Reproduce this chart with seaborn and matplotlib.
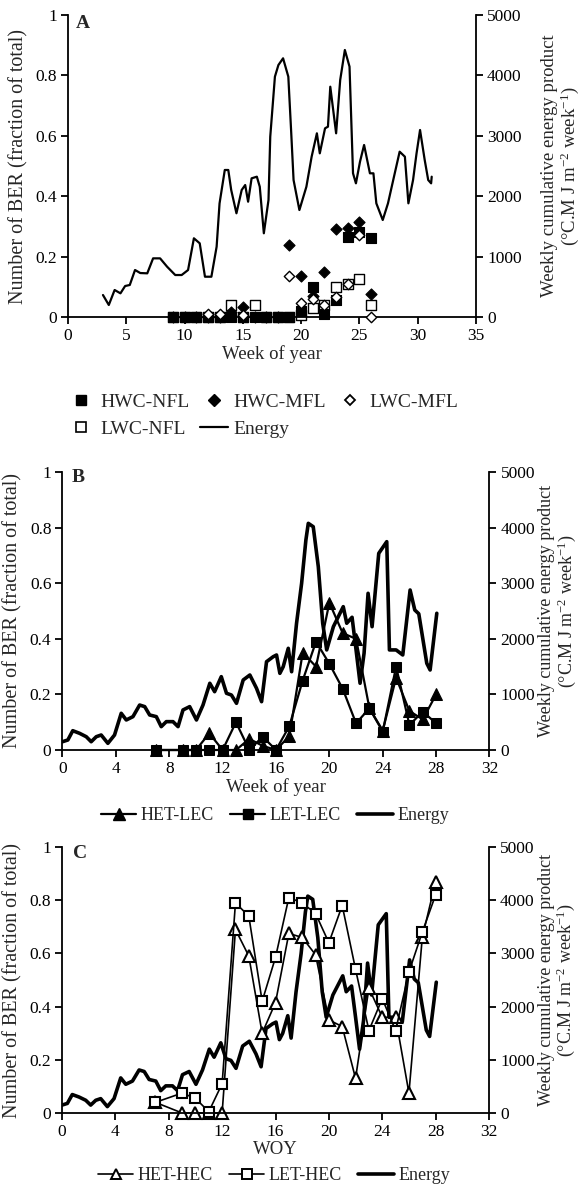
import numpy as np
import pandas as pd
import matplotlib
matplotlib.use("Agg")
import matplotlib.pyplot as plt
import seaborn as sns
from matplotlib.lines import Line2D
from matplotlib.ticker import FuncFormatter, MultipleLocator

nan = float("nan")

# ---------------- data ----------------
# Panel A: weekly BER fractions
weeks_A = [9, 10, 11, 12, 13, 14, 15, 16, 17, 18, 19, 20, 21, 22, 23, 24, 25, 26]
hwc_nfl = [0, 0, 0, 0, 0, 0, 0, 0, 0, 0, 0, 0.02, 0.10, 0.01, 0.055, 0.265, 0.28, 0.26]
hwc_mfl = [0, 0, 0, 0, 0, 0.018, 0.032, 0, 0, 0, 0.24, 0.135, 0.07, 0.15, 0.29, 0.295, 0.315, 0.075]
lwc_mfl = [nan, nan, nan, 0.01, 0.01, nan, 0.005, nan, nan, nan, 0.135, 0.045, 0.06, 0.04, 0.065, 0.11, 0.27, 0]
lwc_nfl = [0, 0, 0, 0, 0, 0.04, 0, 0.04, 0, 0, 0, 0.005, 0.03, 0.04, 0.10, 0.11, 0.125, 0.04]

# Panel A: energy
energy_A_week = [3.0, 3.5, 4.0, 4.5, 4.9, 5.3, 5.75, 6.2, 6.8, 7.3, 7.9, 8.5, 9.2, 9.75, 10.3,
                 10.8, 11.3, 11.75, 12.3, 12.75, 13.0, 13.45, 13.75, 14.0, 14.45, 14.9, 15.2,
                 15.45, 15.75, 16.2, 16.45, 16.8, 17.2, 17.35, 17.75, 18.05, 18.45, 18.9, 19.15,
                 19.35, 19.85, 20.45, 20.9, 21.35, 21.6, 22.05, 22.3, 22.5, 23.0, 23.35, 23.75,
                 24.15, 24.45, 24.7, 25.05, 25.4, 25.9, 26.2, 26.45, 27.0, 27.45, 27.9, 28.45,
                 28.9, 29.2, 29.6, 29.9, 30.2, 30.6, 30.9, 31.15, 31.2]
energy_A = [364, 199, 447, 392, 513, 530, 778, 728, 723, 971, 971, 833, 695, 695, 778,
            1303, 1220, 667, 667, 1164, 1880, 2434, 2434, 2103, 1717, 2103, 2185,
            1909, 2296, 2323, 2157, 1386, 1937, 2985, 3979, 4172, 4283, 3979, 3046,
            2268, 1771, 2157, 2654, 3041, 2710, 3124, 3151, 3813, 3041, 3924, 4421,
            4145, 2379, 2213, 2572, 2848, 2379, 2379, 1882, 1606, 1882, 2268, 2737,
            2654, 1882, 2268, 2710, 3096, 2599, 2268, 2213, 2323]

# Panels B and C: energy
energy_week = [0.0, 0.4, 0.77, 1.28, 1.78, 2.15, 2.53, 2.9, 3.4, 3.9, 4.4, 4.78, 5.28, 5.78,
               6.16, 6.53, 7.03, 7.4, 7.78, 8.28, 8.66, 9.03, 9.53, 10.04, 10.53, 11.04, 11.4,
               11.9, 12.29, 12.66, 13.04, 13.54, 14.04, 14.54, 14.92, 15.29, 15.79, 16.04,
               16.29, 16.54, 16.92, 17.17, 17.54, 17.92, 18.24, 18.42, 18.79, 19.17, 19.5,
               19.8, 20.3, 21.04, 21.3, 21.7, 22.0, 22.3, 22.6, 22.9, 23.2, 23.7, 24.3, 24.5,
               25.0, 25.5, 26.05, 26.4, 26.7, 27.3, 27.55, 28.05]
energy = [149, 180, 347, 300, 239, 149, 239, 270, 120, 270, 660, 540, 600, 809,
          780, 630, 600, 420, 510, 510, 420, 720, 780, 540, 809, 1200, 1049,
          1319, 1020, 989, 840, 1259, 1349, 1110, 869, 1588, 1678, 1709,
          1379, 1498, 1829, 1408, 2279, 2998, 3777, 4077, 4016, 3297, 2279,
          1800, 2218, 2578, 2280, 2387, 1800, 1200, 1740, 2818, 2218, 3537, 3747, 1800,
          1800, 1709, 2878, 2518, 2450, 1559, 1439, 2459]

# Panel B
weeks_B = [7, 9, 10, 11, 12, 13, 14, 15, 16, 17, 18, 19, 20, 21, 22, 23, 24, 25, 26, 27, 28]
het_lec = [0, 0, 0, 0.06, 0, 0, 0.04, 0.015, 0, 0.05, 0.35, 0.30, 0.53, 0.42, 0.40, 0.15,
           0.07, 0.26, 0.14, 0.11, 0.20]
let_lec = [0, 0, 0, 0, 0, 0.10, 0, 0.048, 0, 0.086, 0.25, 0.39, 0.31, 0.22, 0.096, 0.15,
           0.066, 0.30, 0.09, 0.138, 0.096]

# Panel C
weeks_C = [7, 9, 10, 11, 12, 13, 14, 15, 16, 17, 18, 19, 20, 21, 22, 23, 24, 25, 26, 27, 28]
het_hec = [0.04, 0, 0, 0, 0, 0.69, 0.59, 0.30, 0.415, 0.675, 0.66, 0.595, 0.35, 0.325, 0.13,
           0.47, 0.36, 0.36, 0.075, 0.66, 0.87]
let_hec = [0.04, 0.075, 0.055, 0.005, 0.11, 0.79, 0.74, 0.42, 0.585, 0.81, 0.79, 0.75, 0.64,
           0.78, 0.54, 0.31, 0.43, 0.31, 0.53, 0.68, 0.82]

left_ticks = [0, 0.2, 0.4, 0.6, 0.8, 1]
right_ticks = [0, 1000, 2000, 3000, 4000, 5000]

# ---------------- style ----------------
sns.set_theme(style="ticks")
plt.rcParams["font.family"] = ["Liberation Serif", "DejaVu Serif"]
plt.rcParams["mathtext.fontset"] = "custom"
plt.rcParams["mathtext.rm"] = "Liberation Serif"
plt.rcParams["mathtext.it"] = "Liberation Serif:italic"
plt.rcParams["mathtext.bf"] = "Liberation Serif:bold"
plt.rcParams["axes.linewidth"] = 1.3

TICK_FS = 12.5
LAB_FS = 13.5
LEG_FS = 13

W, H = 580, 1186
fig = plt.figure(figsize=(W / 100, H / 100), dpi=100)
fig.patch.set_facecolor("white")


def make_axes(left, right, top, bottom):
    rect = [left / W, 1 - bottom / H, (right - left) / W, (bottom - top) / H]
    ax = fig.add_axes(rect)
    ax2 = ax.twinx()
    return ax, ax2


def style(ax, ax2, xmax, xstep, xlabel, letter, lx, ly, rpad, rfs):
    ax.set_xlim(0, xmax)
    ax.set_ylim(0, 1)
    ax2.set_ylim(0, 5000)
    ax.xaxis.set_major_locator(MultipleLocator(xstep))
    ax.set_yticks(left_ticks)
    ax.yaxis.set_major_formatter(FuncFormatter(lambda v, p: f"{v:g}"))
    ax2.set_yticks(right_ticks)
    for a in (ax, ax2):
        a.set_facecolor("none")
        a.spines["top"].set_visible(False)
        for s in a.spines.values():
            s.set_color("black")
            s.set_linewidth(1.3)
        a.tick_params(direction="out", length=5, width=1.3, colors="black",
                      labelsize=TICK_FS, pad=3)
    ax.spines["right"].set_visible(False)
    ax2.spines["left"].set_visible(False)
    ax2.spines["bottom"].set_visible(False)
    ax.set_xlabel(xlabel, fontsize=LAB_FS, labelpad=1)
    ax.set_ylabel("Number of BER (fraction of total)", fontsize=14.5, labelpad=5)
    ax2.set_ylabel("Weekly cumulative energy product\n(°C.M J m$^{-2}$ week$^{-1}$)",
                   fontsize=rfs, labelpad=rpad, linespacing=1.0)
    ax.text(lx, ly, letter, transform=ax.transAxes, fontsize=14, fontweight="bold",
            ha="center", va="center")
    ax.set_zorder(ax2.get_zorder() + 1)


# ---------------- Panel A ----------------
axA, axA2 = make_axes(68, 476, 15, 317)
sns.lineplot(x=energy_A_week, y=energy_A, ax=axA2, color="black", linewidth=1.6,
             sort=False, estimator=None)
sns.scatterplot(x=weeks_A, y=lwc_nfl, ax=axA, marker="s", s=50, facecolor="white",
                edgecolor="black", linewidth=1.0, zorder=2, clip_on=False)
sns.scatterplot(x=weeks_A, y=hwc_mfl, ax=axA, marker="D", s=32, color="black",
                edgecolor="black", linewidth=0.8, zorder=3, clip_on=False)
sns.scatterplot(x=weeks_A, y=hwc_nfl, ax=axA, marker="s", s=50, color="black",
                edgecolor="black", linewidth=0.8, zorder=4, clip_on=False)
sns.scatterplot(x=weeks_A, y=lwc_mfl, ax=axA, marker="D", s=28, facecolor="white",
                edgecolor="black", linewidth=1.0, zorder=5, clip_on=False)
style(axA, axA2, 35, 5, "Week of year", "A", 0.037, 0.973, 14, 13.5)

hA = [Line2D([], [], ls="none", marker="s", ms=7, mfc="black", mec="black"),
      Line2D([], [], ls="none", marker="s", ms=7, mfc="white", mec="black", mew=1.2),
      Line2D([], [], ls="none", marker="D", ms=6, mfc="black", mec="black"),
      Line2D([], [], color="black", lw=1.6),
      Line2D([], [], ls="none", marker="D", ms=5.5, mfc="white", mec="black", mew=1.3)]
lA = ["HWC-NFL", "LWC-NFL", "HWC-MFL", "Energy", "LWC-MFL"]
axA.legend(hA, lA, ncol=3, loc="upper left", bbox_to_anchor=(67 / W, 1 - 393 / H),
           bbox_transform=fig.transFigure, frameon=False, fontsize=14,
           handlelength=1.45, handletextpad=0.25, columnspacing=0.55, labelspacing=0.5,
           borderaxespad=0, borderpad=0)

# ---------------- Panel B ----------------
axB, axB2 = make_axes(62.5, 489.5, 472, 750)
sns.lineplot(x=energy_week, y=energy, ax=axB2, color="black", linewidth=2.6,
             sort=False, estimator=None)
sns.lineplot(x=weeks_B, y=het_lec, ax=axB, color="black", linewidth=1.6, marker="^",
             markersize=8, markerfacecolor="black", markeredgecolor="black",
             sort=False, estimator=None, clip_on=False)
sns.lineplot(x=weeks_B, y=let_lec, ax=axB, color="black", linewidth=1.6, marker="s",
             markersize=7.5, markerfacecolor="black", markeredgecolor="black",
             sort=False, estimator=None, clip_on=False)
style(axB, axB2, 32, 4, "Week of year", "B", 0.036, 0.982, 2, 13)

hB = [Line2D([], [], color="black", lw=1.6, marker="^", ms=8, mfc="black", mec="black"),
      Line2D([], [], color="black", lw=1.6, marker="s", ms=7.5, mfc="black", mec="black"),
      Line2D([], [], color="black", lw=2.6)]
axB.legend(hB, ["HET-LEC", "LET-LEC", "Energy"], ncol=3, loc="center",
           bbox_to_anchor=(275 / W, 1 - 816 / H), bbox_transform=fig.transFigure,
           frameon=False, fontsize=LEG_FS, handlelength=1.95, handletextpad=0.25,
           columnspacing=0.9, borderaxespad=0, borderpad=0)

# ---------------- Panel C ----------------
axC, axC2 = make_axes(62, 489, 847, 1113)
sns.lineplot(x=energy_week, y=energy, ax=axC2, color="black", linewidth=2.6,
             sort=False, estimator=None)
sns.lineplot(x=weeks_C, y=het_hec, ax=axC, color="black", linewidth=1.2, marker="^",
             markersize=8, markerfacecolor="white", markeredgecolor="black",
             markeredgewidth=1.5, sort=False, estimator=None, clip_on=False)
sns.lineplot(x=weeks_C, y=let_hec, ax=axC, color="black", linewidth=1.2, marker="s",
             markersize=7.5, markerfacecolor="white", markeredgecolor="black",
             markeredgewidth=1.5, sort=False, estimator=None, clip_on=False)
style(axC, axC2, 32, 4, "WOY", "C", 0.042, 0.977, 2, 13)

hC = [Line2D([], [], color="black", lw=1.2, marker="^", ms=7, mfc="white", mec="black", mew=1.4),
      Line2D([], [], color="black", lw=1.2, marker="s", ms=7, mfc="white", mec="black", mew=1.4),
      Line2D([], [], color="black", lw=2.6)]
axC.legend(hC, ["HET-HEC", "LET-HEC", "Energy"], ncol=3, loc="center",
           bbox_to_anchor=(274 / W, 1 - 1176 / H), bbox_transform=fig.transFigure,
           frameon=False, fontsize=LEG_FS, handlelength=1.95, handletextpad=0.25,
           columnspacing=0.9, borderaxespad=0, borderpad=0)

fig.savefig("out.png", dpi=100, facecolor="white")
